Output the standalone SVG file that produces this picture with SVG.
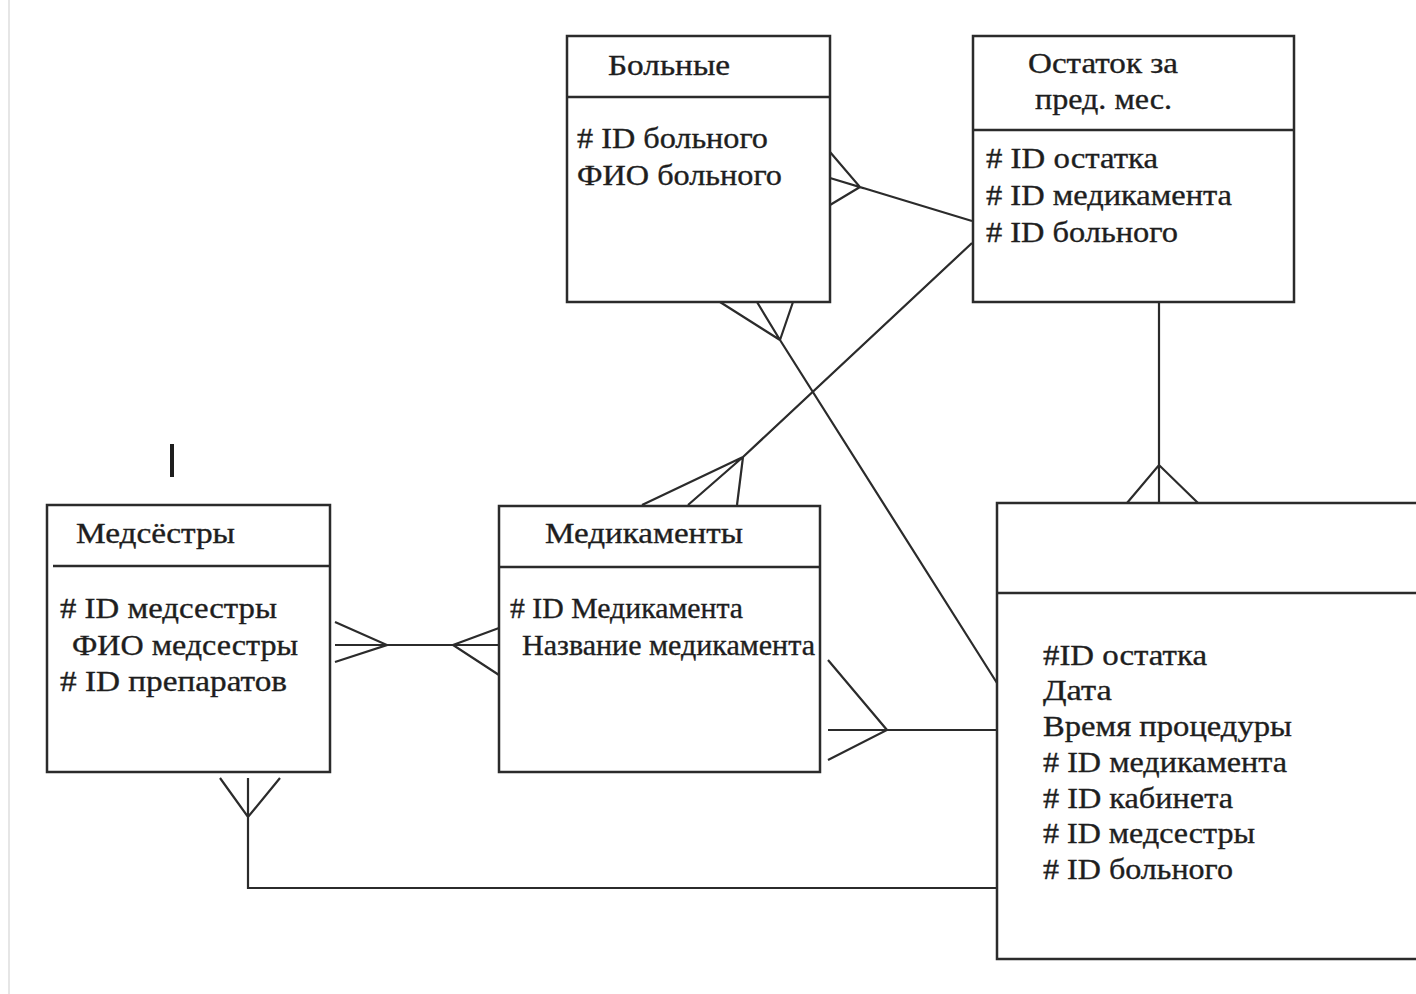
<svg xmlns="http://www.w3.org/2000/svg" width="1416" height="994" viewBox="0 0 1416 994">
<style>
.box{fill:#fff;stroke:#2b2b2b;stroke-width:2.5}
.div{stroke:#2b2b2b;stroke-width:2.5}
.ln{fill:none;stroke:#2b2b2b;stroke-width:2.2;stroke-linejoin:miter}
text{font-family:"Liberation Serif","Times New Roman",serif;font-size:29px;fill:#1e1e1e;stroke:#1e1e1e;stroke-width:0.35}
</style>
<rect x="0" y="0" width="1416" height="994" fill="#fff"/>
<line x1="9" y1="0" x2="9" y2="994" stroke="#e6e6e6" stroke-width="2"/>
<line x1="172" y1="444" x2="172" y2="477" stroke="#1e1e1e" stroke-width="4"/>

<g id="connectors">
  <!-- Больные - Остаток -->
  <path class="ln" d="M972,221 L860,187 M830,152 L860,187 L830,178 M860,187 L830,205"/>
  <!-- Остаток - Медикаменты -->
  <path class="ln" d="M972,243 L743,457 M642,505 L743,457 L688,505 M743,457 L737,505"/>
  <!-- Больные - Большая таблица -->
  <path class="ln" d="M997,683 L780,340 M720,302 L780,340 L757,302 M780,340 L793,302"/>
  <!-- Остаток - Большая таблица -->
  <path class="ln" d="M1159,302 L1159,503 M1127,503 L1159,465 L1198,503"/>
  <!-- Медсёстры - Медикаменты -->
  <path class="ln" d="M335,622 L387,645 L335,662 M335,645 L499,645 M499,628 L453,645 L499,675"/>
  <!-- Медикаменты - Большая таблица -->
  <path class="ln" d="M828,660 L887,730 L828,760 M828,730 L997,730"/>
  <!-- Медсёстры - Большая таблица -->
  <path class="ln" d="M220,778 L248,817 L280,778 M248,778 L248,888 L997,888"/>
</g>

<g id="node-bolnye">
  <rect class="box" x="567" y="36" width="263" height="266"/>
  <line class="div" x1="567" y1="97" x2="830" y2="97"/>
  <text x="608" y="75" textLength="122" lengthAdjust="spacingAndGlyphs">Больные</text>
  <text x="577" y="148" textLength="191" lengthAdjust="spacingAndGlyphs"># ID больного</text>
  <text x="577" y="185" textLength="205" lengthAdjust="spacingAndGlyphs">ФИО больного</text>
</g>

<g id="node-ostatok">
  <rect class="box" x="973" y="36" width="321" height="266"/>
  <line class="div" x1="973" y1="130" x2="1294" y2="130"/>
  <text x="1028" y="73" textLength="150" lengthAdjust="spacingAndGlyphs">Остаток за</text>
  <text x="1035" y="109" textLength="137" lengthAdjust="spacingAndGlyphs">пред. мес.</text>
  <text x="986" y="168" textLength="172" lengthAdjust="spacingAndGlyphs"># ID остатка</text>
  <text x="986" y="205" textLength="246" lengthAdjust="spacingAndGlyphs"># ID медикамента</text>
  <text x="986" y="242" textLength="192" lengthAdjust="spacingAndGlyphs"># ID больного</text>
</g>

<g id="node-medsestry">
  <rect class="box" x="47" y="505" width="283" height="267"/>
  <line class="div" x1="53" y1="566" x2="330" y2="566"/>
  <text x="76" y="543" textLength="159" lengthAdjust="spacingAndGlyphs">Медсёстры</text>
  <text x="60" y="618" textLength="217" lengthAdjust="spacingAndGlyphs"># ID медсестры</text>
  <text x="72" y="655" textLength="226" lengthAdjust="spacingAndGlyphs">ФИО медсестры</text>
  <text x="60" y="691" textLength="227" lengthAdjust="spacingAndGlyphs"># ID препаратов</text>
</g>

<g id="node-medikamenty">
  <rect class="box" x="499" y="506" width="321" height="266"/>
  <line class="div" x1="499" y1="567" x2="820" y2="567"/>
  <text x="545" y="543" textLength="198" lengthAdjust="spacingAndGlyphs">Медикаменты</text>
  <text x="510" y="618" textLength="233" lengthAdjust="spacingAndGlyphs"># ID Медикамента</text>
  <text x="522" y="655" textLength="293" lengthAdjust="spacingAndGlyphs">Название медикамента</text>
</g>

<g id="node-procedury">
  <rect class="box" x="997" y="503" width="440" height="456"/>
  <line class="div" x1="997" y1="593" x2="1416" y2="593"/>
  <text x="1043" y="665" textLength="164" lengthAdjust="spacingAndGlyphs">#ID остатка</text>
  <text x="1043" y="700" textLength="69" lengthAdjust="spacingAndGlyphs">Дата</text>
  <text x="1043" y="736" textLength="249" lengthAdjust="spacingAndGlyphs">Время процедуры</text>
  <text x="1043" y="772" textLength="244" lengthAdjust="spacingAndGlyphs"># ID медикамента</text>
  <text x="1043" y="808" textLength="190" lengthAdjust="spacingAndGlyphs"># ID кабинета</text>
  <text x="1043" y="843" textLength="212" lengthAdjust="spacingAndGlyphs"># ID медсестры</text>
  <text x="1043" y="879" textLength="190" lengthAdjust="spacingAndGlyphs"># ID больного</text>
</g>
</svg>
